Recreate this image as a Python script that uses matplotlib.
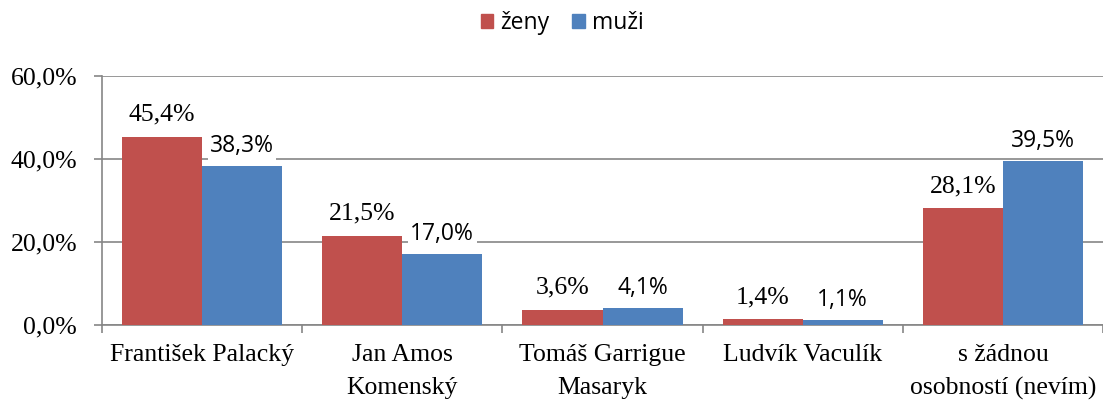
import matplotlib
matplotlib.use("Agg")
import matplotlib.pyplot as plt
import matplotlib.patches as mpatches
import numpy as np

# ── data ─────────────────────────────────────────────────────────────────────
categories = ["František Palacký", "Jan Amos\nKomenský", "Tomáš Garrigue\nMasaryk",
              "Ludvík Vaculík", "s žádnou\nosobností (nevím)"]
zeny = [45.4, 21.5, 3.6, 1.4, 28.1]
muzi = [38.3, 17.0, 4.1, 1.1, 39.5]
series_names = ["ženy", "muži"]

RED = "#C0504D"
BLUE = "#4F81BD"
GRID = "#868686"
SERIF = "Liberation Serif"
SANS = "Open Sans"

# ── figure ───────────────────────────────────────────────────────────────────
fig = plt.figure(figsize=(11.03, 4.01), dpi=100)
ax = fig.add_axes([102 / 1103, 1 - 325 / 401, 1 - 102 / 1103, (325 - 76) / 401])

x = np.arange(len(categories))
w = 0.4
b1 = ax.bar(x - w / 2, zeny, w, color=RED, zorder=3)
b2 = ax.bar(x + w / 2, muzi, w, color=BLUE, zorder=3)

# value labels
for rect, v in zip(b1, zeny):
    ax.annotate(f"{v:.1f}%".replace(".", ","),
                (rect.get_x() + rect.get_width() / 2, rect.get_height()),
                xytext=(0, 8), textcoords="offset points", ha="center", va="bottom",
                fontsize=18.5, family=SERIF, zorder=4,
                bbox=dict(boxstyle="square,pad=0.1", fc="white", ec="none"))
for rect, v in zip(b2, muzi):
    ax.annotate(f"{v:.1f}%".replace(".", ","),
                (rect.get_x() + rect.get_width() / 2, rect.get_height()),
                xytext=(0, 6), textcoords="offset points", ha="center", va="bottom",
                fontsize=16.5, family=SANS, zorder=4,
                bbox=dict(boxstyle="square,pad=0.1", fc="white", ec="none"))

# axes styling
ax.set_xlim(-0.5, len(categories) - 0.5)
ax.set_ylim(0, 60)
ax.set_yticks([0, 20, 40, 60])
ax.set_yticklabels(["0,0%", "20,0%", "40,0%", "60,0%"], family=SERIF, fontsize=18.5)
ax.yaxis.grid(True, color=GRID, linewidth=1.2, zorder=0)
ax.tick_params(axis="y", length=6, color=GRID, width=1.2, pad=12)

ax.set_xticks(np.arange(-0.5, len(categories), 1.0))
ax.set_xticklabels([])
ax.set_xticks(x, minor=True)
ax.set_xticklabels(categories, minor=True, family=SERIF, fontsize=18.5, linespacing=1.6)
ax.tick_params(axis="x", which="minor", length=0, pad=14)
ax.tick_params(axis="x", which="major", length=6, color=GRID, width=1.2)

for s in ["top", "right"]:
    ax.spines[s].set_visible(False)
for s in ["left", "bottom"]:
    ax.spines[s].set_color(GRID)
    ax.spines[s].set_linewidth(1.2)

# legend
handles = [mpatches.Patch(color=RED, label=series_names[0]),
           mpatches.Patch(color=BLUE, label=series_names[1])]
fig.legend(handles=handles, loc="center", bbox_to_anchor=(562 / 1103, 1 - 23 / 401),
           ncol=2, frameon=False, prop={"family": SANS, "size": 16.5},
           handlelength=0.55, handleheight=0.55, handletextpad=0.3, columnspacing=1.0,
           borderpad=0)

fig.savefig("out.png", dpi=100)
